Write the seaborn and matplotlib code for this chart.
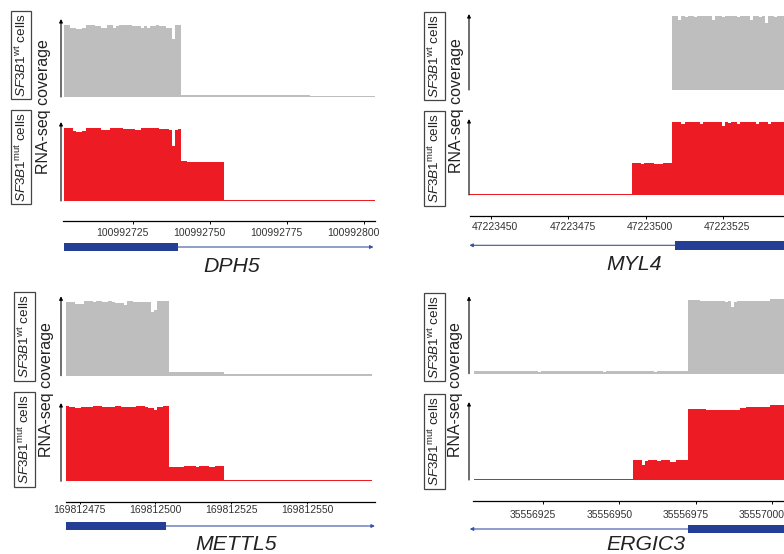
import numpy as np
import pandas as pd
import matplotlib
matplotlib.use("Agg")
import matplotlib.pyplot as plt
import seaborn as sns
from matplotlib.patches import Rectangle
from matplotlib.transforms import ScaledTranslation

sns.set_theme(style="white")
plt.rcParams['font.family'] = ['Liberation Sans', 'DejaVu Sans']
plt.rcParams['mathtext.fontset'] = 'custom'
plt.rcParams['mathtext.rm'] = 'Liberation Sans'
plt.rcParams['mathtext.it'] = 'Liberation Sans:italic'

# ---------------- data ----------------
genes = ["DPH5", "MYL4", "METTL5", "ERGIC3"]
cov_start = [100992703, 47223443, 169812471, 35556903]
ticks = [
    [100992725, 100992750, 100992775, 100992800],
    [47223450, 47223475, 47223500, 47223525],
    [169812475, 169812500, 169812525, 169812550],
    [35556925, 35556950, 35556975, 35557000],
]
exon_start = [100992703, 47223510, 169812471, 35556973]
exon_end = [100992739, 47223570, 169812503, 35557020]
line_to = [100992803, 47223443, 169812572.4, 35556901]
strand = ['+', '-', '+', '-']

dph5_wt = [
    100, 100, 96, 96, 95, 95, 96, 100, 100, 100,
    99, 99, 96, 96, 100, 100, 96, 98, 100, 100,
    100, 100, 99, 99, 98, 96, 99, 96, 99, 99,
    100, 99, 98, 96, 96, 81, 100, 100,
    3, 3, 3, 3, 3, 3, 3, 3, 3, 3,
    3, 3, 3, 3, 3, 3, 3, 2.6, 3, 3,
    3, 3, 3, 3, 3, 3, 3, 3, 3, 3,
    3, 3, 3, 3, 2.6, 3, 3, 3, 3, 3,
    3, 3,
    1.2, 1.2, 1.2, 1.2, 1.2, 1.2, 1.2, 1.2, 1.2, 1.2,
    1.2, 1.2, 1.2, 1.2, 1.2, 1.2, 1.2, 1.2, 1.2, 1.2,
    1.2,
]
dph5_mut = [
    100, 100, 100, 96, 94, 94, 96, 100, 100, 100,
    100, 100, 97, 97, 97, 100, 100, 100, 100, 98,
    98, 98, 98, 97, 97, 100, 100, 100, 100, 100,
    100, 99, 98, 98, 97, 75, 97, 98,
    55, 55, 53, 53, 54, 53, 53, 54, 54, 53, 53, 54, 54, 54,
    1.5, 1.5, 1.5, 1.5, 1.5, 1.5, 1.5, 1.5, 1.5, 1.5,
    1.5, 1.5, 1.5, 1.5, 1.5, 1.5, 1.5, 1.5, 1.5, 1.5,
    1.5, 1.5, 1.5, 1.5, 1.5, 1.5, 1.5, 1.5, 1.5, 1.5,
    1.5, 1.5, 1.5, 1.5, 1.5, 1.5, 1.5, 1.5, 1.5, 1.5,
    1.5, 1.5, 1.5, 1.5, 1.5, 1.5, 1.5, 1.5, 1.5,
]
myl4_wt = [
    0.5, 0.5, 0.5, 0.5, 0.5, 0.5, 0.5, 0.5, 0.5, 0.5,
    0.5, 0.5, 0.5, 0.5, 0.5, 0.5, 0.5, 0.5, 0.5, 0.5,
    0.5, 0.5, 0.5, 0.5, 0.5, 0.5, 0.5, 0.5, 0.5, 0.5,
    0.5, 0.5, 0.5, 0.5, 0.5, 0.5, 0.5, 0.5, 0.5, 0.5,
    0.5, 0.5, 0.5, 0.5, 0.5, 0.5, 0.5, 0.5, 0.5, 0.5,
    0.5, 0.5, 0.5, 0.5, 0.5, 0.5, 0.5, 0.5, 0.5, 0.5,
    0.5, 0.5, 0.5, 0.5, 0.5, 0.5,
    100, 100, 95, 100, 99, 100, 100, 99, 100, 100,
    100, 100, 100, 95, 100, 100, 99, 100, 100, 100,
    100, 99, 100, 100, 100, 95, 100, 100, 99, 100,
    90, 100, 100, 99, 100, 100, 100,
]
myl4_mut = [
    1.5, 1.5, 1.5, 1.5, 1.5, 1.5, 1.5, 1.5, 1.5, 1.5,
    1.5, 1.5, 1.5, 1.5, 1.5, 1.5, 1.5, 1.5, 1.5, 1.5,
    1.5, 1.5, 1.5, 1.5, 1.5, 1.5, 1.5, 1.5, 1.5, 1.5,
    1.5, 1.5, 1.5, 1.5, 1.5, 1.5, 1.5, 1.5, 1.5, 1.5,
    1.5, 1.5, 1.5, 1.5, 1.5, 1.5, 1.5, 1.5, 1.5, 1.5,
    1.5, 1.5, 1.5,
    44, 44, 44, 42, 44, 44, 44, 42, 43, 43, 44, 44, 44,
    100, 100, 100, 97, 100, 100, 100, 100, 100, 97,
    100, 100, 100, 100, 100, 100, 95, 100, 98, 100,
    100, 97, 100, 100, 100, 100, 100, 97, 100, 100,
    100, 97, 100, 100, 100, 100, 100,
]
mettl5_wt = [
    98, 99, 99, 96, 96, 96, 100, 100, 100, 99,
    100, 100, 99, 99, 100, 98, 97, 97, 97, 95,
    100, 100, 99, 99, 99, 99, 99, 99, 85, 88,
    100, 100, 100, 100,
    5, 5, 5, 4.7, 4.7, 4.7, 5, 5, 5, 4.7, 4.7, 5, 5, 5, 5, 5, 5, 5,
    1.8, 1.8, 1.8, 1.8, 1.8, 1.8, 1.8, 1.8, 1.8, 1.8,
    1.8, 1.8, 1.8, 1.8, 1.8, 1.8, 1.8, 1.8, 1.8, 1.8,
    1.8, 1.8, 1.8, 1.8, 1.8, 1.8, 1.8, 1.8, 1.8, 1.8,
    1.8, 1.8, 1.8, 1.8, 1.8, 1.8, 1.8, 1.8, 1.8, 1.8,
    1.8, 1.8, 1.8, 1.8, 1.8, 1.8, 1.8, 1.8, 1.8,
]
mettl5_mut = [
    100, 99, 99, 98, 98, 99, 99, 99, 99, 100,
    100, 100, 99, 99, 99, 99, 100, 100, 99, 99,
    99, 99, 99, 100, 100, 100, 99, 98, 97, 95,
    99, 99, 100, 100,
    19, 19, 19, 19, 19, 20, 20, 20, 20, 19, 20, 20, 20, 19, 19, 20, 20, 20,
    1.5, 1.5, 1.5, 1.5, 1.5, 1.5, 1.5, 1.5, 1.5, 1.5,
    1.5, 1.5, 1.5, 1.5, 1.5, 1.5, 1.5, 1.5, 1.5, 1.5,
    1.5, 1.5, 1.5, 1.5, 1.5, 1.5, 1.5, 1.5, 1.5, 1.5,
    1.5, 1.5, 1.5, 1.5, 1.5, 1.5, 1.5, 1.5, 1.5, 1.5,
    1.5, 1.5, 1.5, 1.5, 1.5, 1.5, 1.5, 1.5, 1.5,
]
ergic3_wt = [
    3.3, 3.3, 3.3, 3.3, 3.3, 3.3, 3.3, 3.3, 3.3, 3.3,
    3.3, 3.3, 3.3, 3.3, 3.3, 3.3, 3.3, 3.3, 3.3, 3.3,
    3.3, 2.8, 3.3, 3.3, 3.3, 3.3, 3.3, 3.3, 3.3, 3.3,
    3.3, 3.3, 3.3, 3.3, 3.3, 3.3, 3.3, 3.3, 3.3, 3.3,
    3.3, 3.3, 2.8, 3.3, 3.3, 3.3, 3.3, 3.3, 3.3, 3.3,
    3.3, 3.3, 3.3, 3.3, 3.3, 3.3, 3.3, 3.3, 3.3, 2.8,
    3.3, 3.3, 3.3, 3.3, 3.3, 3.3, 3.3, 3.3, 3.3, 3.3,
    100, 100, 100, 100, 99, 99, 99, 99, 99, 99,
    99, 98, 97, 98, 90, 97, 98, 98, 98, 98,
    98, 98, 98, 98, 99, 99, 99, 101, 101, 101,
    101, 101,
]
ergic3_mut = [
    1.5, 1.5, 1.5, 1.5, 1.5, 1.5, 1.5, 1.5, 1.5, 1.5,
    1.5, 1.5, 1.5, 1.5, 1.5, 1.5, 1.5, 1.5, 1.5, 1.5,
    1.5, 1.5, 1.5, 1.5, 1.5, 1.5, 1.5, 1.5, 1.5, 1.5,
    1.5, 1.5, 1.5, 1.5, 1.5, 1.5, 1.5, 1.5, 1.5, 1.5,
    1.5, 1.5, 1.5, 1.5, 1.5, 1.5, 1.5, 1.5, 1.5, 1.5,
    1.5, 1.5,
    27, 27, 27, 20, 25, 27, 27, 27, 25, 27, 27, 27, 24, 24, 26, 26, 26, 26,
    94, 94, 94, 94, 94, 94, 93, 93, 93, 93,
    93, 93, 93, 93, 93, 93, 93, 95, 95, 97,
    97, 97, 97, 97, 97, 97, 97, 99, 100, 100,
    100, 100,
]
wt_cov = [dph5_wt, myl4_wt, mettl5_wt, ergic3_wt]
mut_cov = [dph5_mut, myl4_mut, mettl5_mut, ergic3_mut]

# ---------------- layout (pixels) ----------------
W, H = 784, 554
GREY = "#BEBEBE"
RED = "#ED1C24"
BLUE = "#233E94"
LBLUE = "#3953A4"

panels = [
    dict(s=3.08, ref=(100992725, 133.3), ax=(61, 375), wt=(19, 97), mut=(122, 201),
         wt_top=108.3, mut_top=108.2, xaxis=221, axlo=63, tickpad=2.9, ticklen=2.2, tdx=-10.5,
         gene=247, name=(231.7, 271.7), box_x=21, box_wt=55, box_mut=157, rna=(44, 107)),
    dict(s=3.096, ref=(47223450, 491), ax=(469, 784), wt=(14, 90), mut=(119, 195),
         wt_top=102.7, mut_top=104.1, xaxis=216, axlo=470, tickpad=2.2, ticklen=2.2, tdx=4,
         gene=245.3, name=(634.2, 269.5), box_x=434.5, box_wt=56, box_mut=158.5, rna=(456, 106)),
    dict(s=3.031, ref=(169812475, 79.7), ax=(61, 375), wt=(296.3, 375.7), mut=(403, 481.3),
         wt_top=106.3, mut_top=104, xaxis=502, axlo=66, tickpad=0.8, ticklen=1.5, tdx=0,
         gene=526, name=(235.8, 550.5), box_x=24.5, box_wt=336.5, box_mut=439.5, rna=(47, 390)),
    dict(s=3.053, ref=(35556925, 543), ax=(469, 784), wt=(296.3, 373.7), mut=(402, 480),
         wt_top=105, mut_top=103.6, xaxis=501.3, axlo=473, tickpad=4.1, ticklen=2.2, tdx=-10,
         gene=529, name=(646, 550.5), box_x=434.5, box_wt=337, box_mut=441.5, rna=(455, 389.5)),
]

fig = plt.figure(figsize=(W / 100, H / 100), dpi=100)


def px_axes(l, t, r, b):
    return fig.add_axes([l / W, 1 - b / H, (r - l) / W, (b - t) / H])


def fx(x):
    return x / W


def fy(y):
    return 1 - y / H


def draw_cov(ax, pos, vals, color, xlim, ytop):
    df = pd.DataFrame({"pos": pos, "cov": vals})
    sns.histplot(data=df, x="pos", weights="cov", discrete=True, element="step",
                 fill=True, color=color, alpha=1, linewidth=0, ax=ax)
    ax.set_xlim(*xlim)
    ax.set_ylim(0, ytop)
    ax.set_axis_off()
    ax.annotate("", xy=(0, 1), xytext=(0, 0), xycoords="axes fraction",
                arrowprops=dict(arrowstyle="-|>", color="black", lw=0.8,
                                mutation_scale=5, shrinkA=0, shrinkB=0),
                annotation_clip=False)


for i, p in enumerate(panels):
    s = p["s"]
    rb, rp = p["ref"]
    l, r = p["ax"]
    xlim = (rb + (l - rp) / s, rb + (r - rp) / s)
    n_wt = len(wt_cov[i])
    n_mut = len(mut_cov[i])
    pos_wt = cov_start[i] + np.arange(n_wt)
    pos_mut = cov_start[i] + np.arange(n_mut)

    ax_wt = px_axes(l, p["wt"][0], r, p["wt"][1])
    draw_cov(ax_wt, pos_wt, wt_cov[i], GREY, xlim, p["wt_top"])
    ax_mut = px_axes(l, p["mut"][0], r, p["mut"][1])
    draw_cov(ax_mut, pos_mut, mut_cov[i], RED, xlim, p["mut_top"])

    # x axis
    axx = px_axes(l, p["xaxis"] - 1, r, p["xaxis"])
    axx.patch.set_visible(False)
    for sp in ["left", "right", "top"]:
        axx.spines[sp].set_visible(False)
    axx.spines["bottom"].set_color("black")
    axx.spines["bottom"].set_linewidth(0.9)
    axx.set_xlim(*xlim)
    lo = rb + (p["axlo"] - rp) / s
    axx.spines["bottom"].set_bounds(lo, xlim[1])
    axx.set_yticks([])
    axx.set_xticks(ticks[i], labels=[str(t) for t in ticks[i]])
    axx.tick_params(axis="x", bottom=True, direction="out", length=p["ticklen"], width=0.7,
                    color="black", pad=p["tickpad"], labelsize=7.5, labelcolor="#333333")
    off = ScaledTranslation(p["tdx"] / 100, 0, fig.dpi_scale_trans)
    for lab in axx.get_xticklabels():
        lab.set_transform(lab.get_transform() + off)

    # gene model
    axg = px_axes(l, p["gene"] - 6, r, p["gene"] + 6)
    axg.set_axis_off()
    axg.set_xlim(*xlim)
    axg.set_ylim(-6, 6)
    es, ee = exon_start[i] - 0.5, exon_end[i] + 0.5
    axg.add_patch(Rectangle((es, -4.2), ee - es, 8.4, facecolor=BLUE, edgecolor="none",
                            clip_on=True))
    line_from = ee if strand[i] == "+" else es
    axg.annotate("", xy=(line_to[i], 0), xytext=(line_from, 0), xycoords="data",
                 arrowprops=dict(arrowstyle="-|>", color=LBLUE, lw=0.8, mutation_scale=5,
                                 shrinkA=0, shrinkB=0),
                 annotation_clip=False)

    # gene name
    fig.text(fx(p["name"][0]), fy(p["name"][1]), genes[i], ha="center", va="baseline",
             fontsize=15.3, style="italic", color="#222222")

    # labels
    bbox = dict(boxstyle="square,pad=0.18", fc="white", ec="#444444", lw=0.9)
    fig.text(fx(p["box_x"]), fy(p["box_wt"]), r"$\mathit{SF3B1}^{\mathrm{wt}}$ cells",
             rotation=90, ha="center", va="center", fontsize=9.7, color="#222222", bbox=bbox)
    fig.text(fx(p["box_x"]), fy(p["box_mut"]), r"$\mathit{SF3B1}^{\mathrm{mut}}$ cells",
             rotation=90, ha="center", va="center", fontsize=9.7, color="#222222", bbox=bbox)
    fig.text(fx(p["rna"][0]), fy(p["rna"][1]), "RNA-seq coverage", rotation=90,
             ha="center", va="center", fontsize=11.5, color="#222222")

fig.savefig("out.png", dpi=100)
